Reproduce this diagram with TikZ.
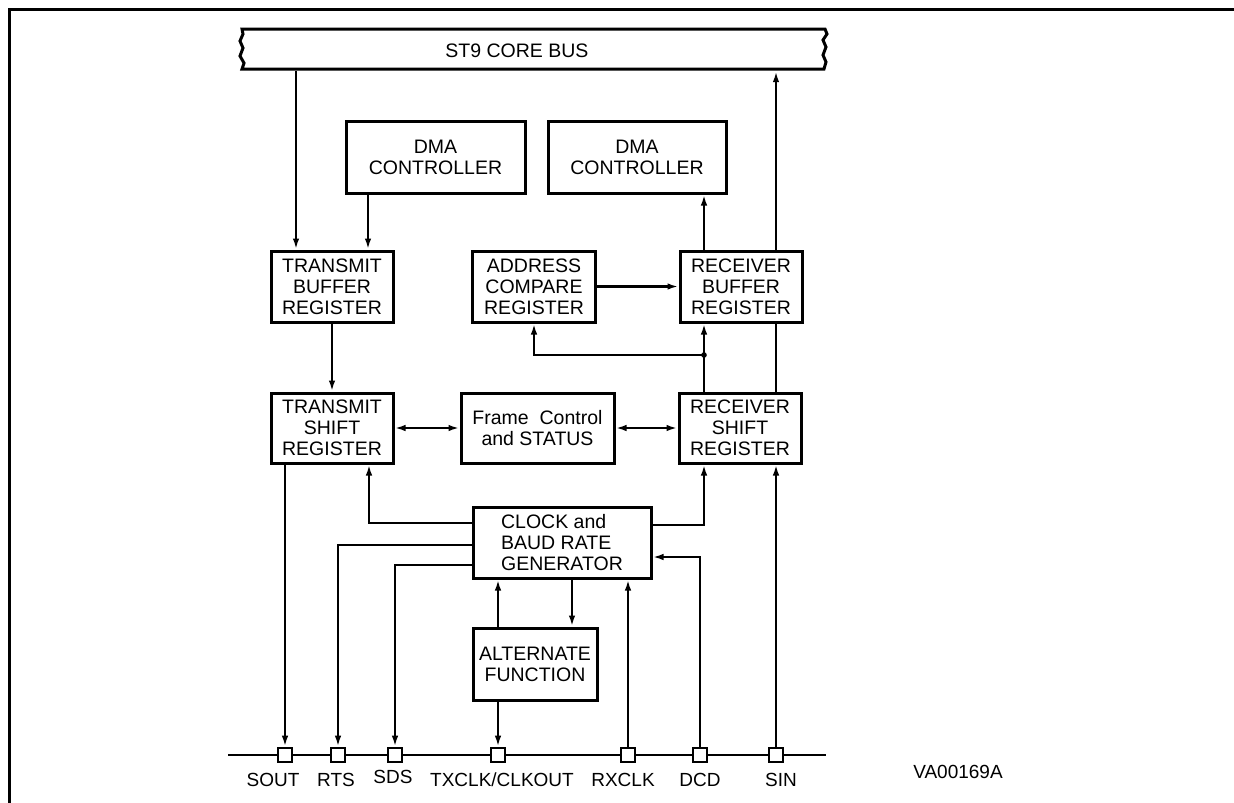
\documentclass[tikz,border=0pt]{standalone}
\usepackage{fontspec}
\setmainfont{Liberation Sans}
\usepackage{tikz}
\usetikzlibrary{calc}
\usetikzlibrary{arrows.meta, shapes}

\begin{document}
\begin{tikzpicture}[x = 1pt, y = -1pt, >={Latex[length=11pt, width=6.5pt]}]

\tikzstyle{block_r}=[rectangle, draw=black, line width = 3, align=center, inner sep = 0, font=\fontsize{19.5}{20.8}\selectfont]
\tikzstyle{port_sq}=[rectangle, draw=black, fill=white, line width = 2.6, minimum size = 14, inner sep = 0]
\tikzstyle{port_lb}=[inner sep = 0, text height = 14, text depth = 0, font=\fontsize{19}{20}\selectfont]
\tikzstyle{wire}=[line width = 2.6, color = black]

\useasboundingbox (0, 0) rectangle (1234, 803);

\coordinate (BUS) at (517, 51);
\coordinate (DL) at (435.5, 157);
\coordinate (DR) at (637, 157);
\coordinate (TB) at (332, 286.5);
\coordinate (AC) at (534, 286.5);
\coordinate (RB) at (741, 286.5);
\coordinate (TS) at (332, 428);
\coordinate (FC) at (537.5, 428);
\coordinate (RS) at (740, 428);
\coordinate (CK) at (562, 542.5);
\coordinate (AF) at (535, 664);
\coordinate (L0) at (228, 755);
\coordinate (L1) at (826, 755);
\coordinate (bl) at (296, 0);
\coordinate (dl) at (368, 0);
\coordinate (rx) at (704, 525);
\coordinate (br) at (704, 355);
\coordinate (ctx) at (369, 523);
\coordinate (crts) at (0, 545);
\coordinate (csds) at (0, 565);
\coordinate (cdcd) at (0, 557);
\coordinate (ca) at (572, 0);

% frame
\draw[line width = 3] (9, 803) -- (9, 9) -- (1234, 9);

% core bus
\draw[line width = 3] (242, 29) -- (825, 29) -- (827, 34) -- (823, 40) -- (826, 47) -- (823, 55) -- (826, 62) -- (824, 69)
  -- (242, 69) -- (244, 63) -- (240, 56) -- (243, 48) -- (240, 41) -- (243, 34) -- cycle;

\path
($(BUS)$) node[inner sep = 0, minimum height = 40, font=\fontsize{19.5}{20.8}\selectfont](bus) {ST9 CORE BUS}
($(DL)$) node[block_r, minimum width = 179, minimum height = 72](dmaL) {DMA\\CONTROLLER}
($(DR)$) node[block_r, minimum width = 178, minimum height = 72](dmaR) {DMA\\CONTROLLER}
($(TB)$) node[block_r, minimum width = 122, minimum height = 71](tbuf) {TRANSMIT\\BUFFER\\REGISTER}
($(AC)$) node[block_r, minimum width = 123, minimum height = 71](acmp) {ADDRESS\\COMPARE\\REGISTER}
($(RB)$) node[block_r, minimum width = 122, minimum height = 71](rbuf) {RECEIVER\\BUFFER\\REGISTER}
($(TS)$) node[block_r, minimum width = 122, minimum height = 70](tshift) {TRANSMIT\\SHIFT\\REGISTER}
($(FC)$) node[block_r, minimum width = 153, minimum height = 70](frame) {Frame\ \ Control\\and STATUS}
($(RS)$) node[block_r, minimum width = 122, minimum height = 70](rshift) {RECEIVER\\SHIFT\\REGISTER}
($(CK)$) node[block_r, align = left, minimum width = 178, minimum height = 71](clock) {CLOCK and\\BAUD RATE\\GENERATOR}
($(AF)$) node[block_r, minimum width = 124, minimum height = 72](alt) {ALTERNATE\\FUNCTION};

\path
(285, 755) node[port_sq](p_sout) {}
(338, 755) node[port_sq](p_rts) {}
(395, 755) node[port_sq](p_sds) {}
(498, 755) node[port_sq](p_txclk) {}
(628, 755) node[port_sq](p_rxclk) {}
(700, 755) node[port_sq](p_dcd) {}
(776, 755) node[port_sq](p_sin) {}
($(p_sout) + (-12, 24)$) node[port_lb](l_sout) {SOUT}
($(p_rts) + (-2, 24)$) node[port_lb](l_rts) {RTS}
($(p_sds) + (-2, 21)$) node[port_lb](l_sds) {SDS}
($(p_txclk) + (4, 24)$) node[port_lb](l_txclk) {TXCLK/CLKOUT}
($(p_rxclk) + (-5, 24)$) node[port_lb](l_rxclk) {RXCLK}
($(p_dcd) + (0, 24)$) node[port_lb](l_dcd) {DCD}
($(p_sin) + (5, 24)$) node[port_lb](l_sin) {SIN}
(958, 771) node[port_lb](ref) {VA00169A};

% pin line
\draw[wire] (L0) -- (p_sout) -- (p_rts) -- (p_sds) -- (p_txclk) -- (p_rxclk) -- (p_dcd) -- (p_sin) -- (L1);

% arrows
\draw[->, wire] (bus.south -| bl) to (tbuf.north -| bl);
\draw[->, wire] (dmaL.south -| dl) to (tbuf.north -| dl);
\draw[->, wire] (rbuf.north -| rx) to (dmaR.south -| rx);
\draw[->, wire] (rbuf.north -| p_sin) to (bus.south -| p_sin);
\draw[->, wire] (acmp.east) to (rbuf.west);
\draw[->, wire] (rshift.north -| rx) to (rbuf.south -| rx);
\draw[wire] (rshift.north -| p_sin) to (rbuf.south -| p_sin);
\fill (br) circle (2.8);
\draw[->, wire] (br) -| (acmp.south);
\draw[->, wire] (tbuf.south) to (tshift.north);
\draw[<->, wire] (tshift.east) to (frame.west);
\draw[<->, wire] (frame.east) to (rshift.west);
\draw[->, wire] (tshift.south -| p_sout) to (p_sout.north);
\draw[->, wire] (p_sin.north) to (rshift.south -| p_sin);

% clock lines
\draw[->, wire] (clock.west |- ctx) -| (tshift.south -| ctx);
\draw[->, wire] (clock.east |- rx) -| (rshift.south -| rx);
\draw[->, wire] (clock.west |- crts) -| (p_rts.north);
\draw[->, wire] (clock.west |- csds) -| (p_sds.north);
\draw[->, wire] (p_dcd.north) |- (clock.east |- cdcd);
\draw[->, wire] (p_rxclk.north) to (clock.south -| p_rxclk);
\draw[->, wire] (clock.south -| ca) to (alt.north -| ca);
\draw[->, wire] (alt.north -| p_txclk) to (clock.south -| p_txclk);
\draw[->, wire] (alt.south -| p_txclk) to (p_txclk.north);

\end{tikzpicture}
\end{document}
